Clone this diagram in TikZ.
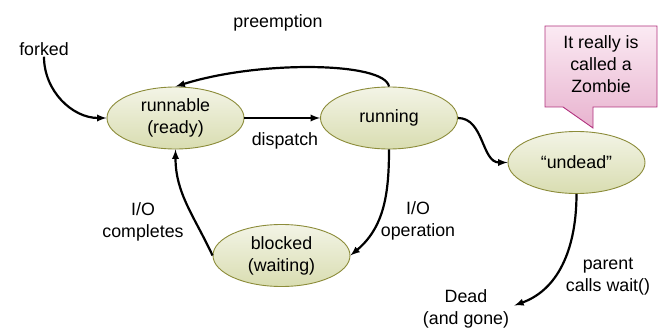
\documentclass[tikz,border=0pt]{standalone}
\usepackage{fontspec}
\setmainfont{Liberation Sans}
\usetikzlibrary{shapes.geometric}
\definecolor{stateline}{HTML}{8C8C3A}
\definecolor{statetop}{HTML}{F3F4E6}
\definecolor{statebot}{HTML}{D9DDB1}
\definecolor{zomline}{HTML}{B1327E}
\definecolor{zomtop}{HTML}{FBEAF3}
\definecolor{zombot}{HTML}{E8B3CF}
\begin{document}
\begin{tikzpicture}[
    x=1pt, y=1pt,
    font=\fontsize{17.8}{22}\selectfont,
    lbl/.style={%
      align=center,
      inner sep=1pt,
    },
  ]

\tikzstyle{state} = [ellipse, minimum width=137pt, minimum height=62pt, inner sep=1pt, align=center, draw=stateline, line width=0.9pt, top color=statetop, bottom color=statebot]

\tikzstyle{trans} = [-latex, line width=2.2pt, black]

\tikzstyle{bubble} = [draw=zomline, line width=0.9pt, top color=zomtop, bottom color=zombot]

    \useasboundingbox (0,0) rectangle (659,327);

    \node [state] (runnable) at (175.5,209) {runnable\\(ready)};
    \path (runnable) ++(213.5,0) node [state] (running) {running};
    \path (running) ++(187.5,-44.5) node [state] (undead) {``undead''};
    \path (runnable) ++(106,-137.5) node [state] (blocked) {blocked\\(waiting)};

    \node [lbl] (forked) at (44,278) {forked};
    \node [lbl] (preempt) at (278,304) {preemption};
    \node [lbl] (dispatch) at (285,186) {dispatch};
    \node [lbl] (iodone) at (143,105.5) {I/O\\completes};
    \node [lbl] (ioop) at (418,106) {I/O\\operation};
    \node [lbl] (parent) at (608,50) {parent\\calls wait()};
    \node [lbl] (dead) at (466,18.5) {Dead\\(and gone)};

    % zombie remark
    \path [bubble] (545,301) -- (657,301) -- (657,220) -- (593,220) -- (593,199) -- (563,220) -- (545,220) -- cycle;
    \node [lbl] (zombie) at (601,263) {It really is\\called a\\Zombie};

    \draw [trans] (forked.south) to[out=-90,in=180] (runnable.west);
    \draw [trans] (running.north) .. controls (385,265) and (260,267) .. (runnable.north);
    \draw [trans] (runnable) -- (running);
    \draw [trans] (running.east) to[out=0,in=180] (undead.west);
    \draw [trans] (running.south) to[out=-90,in=40] (blocked.east);
    \draw [trans] (blocked.west) to[out=115,in=-90] (runnable.south);
    \draw [trans] (undead.south) to[out=-90,in=20] ([xshift=4pt,yshift=3pt]dead.east);
\end{tikzpicture}
\end{document}
